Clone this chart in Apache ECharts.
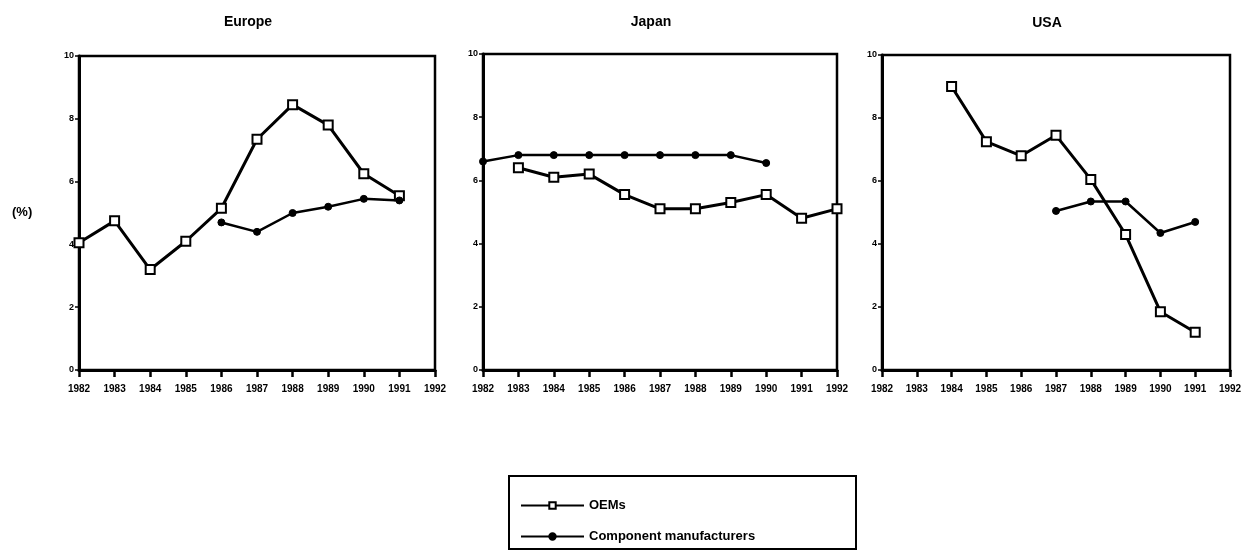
<!DOCTYPE html>
<html><head><meta charset="utf-8">
<script src="https://cdn.jsdelivr.net/npm/echarts@6/dist/echarts.min.js"></script>
<style>html,body{margin:0;padding:0;background:#fff}#c{width:1250px;height:559px}</style>
</head><body><div id="c"></div>
<script>
const years = [1982,1983,1984,1985,1986,1987,1988,1989,1990,1991,1992];
const yTicks = [0,2,4,6,8,10];
const regions = ['Europe','Japan','USA'];
const europeOEM = [4.05,4.75,3.2,4.1,5.15,7.35,8.45,7.8,6.25,5.55,null];
const europeComp = [null,null,null,null,4.7,4.4,5.0,5.2,5.45,5.4,null];
const japanOEM = [null,6.4,6.1,6.2,5.55,5.1,5.1,5.3,5.55,4.8,5.1];
const japanComp = [6.6,6.8,6.8,6.8,6.8,6.8,6.8,6.8,6.55,null,null];
const usaOEM = [null,null,9.0,7.25,6.8,7.45,6.05,4.3,1.85,1.2,null];
const usaComp = [null,null,null,null,null,5.05,5.35,5.35,4.35,4.7,null];
const seriesNames = ['OEMs','Component manufacturers'];

const oemData = [europeOEM, japanOEM, usaOEM];
const compData = [europeComp, japanComp, usaComp];

const FONT = 'Liberation Sans';
const grids = [
  {left:79, width:356, top:56, height:314},
  {left:483, width:354, top:54, height:316},
  {left:882, width:348, top:55, height:315}
];
const pairs = arr => years.map((y,i)=>arr[i]==null?null:[y,arr[i]]).filter(p=>p);

const chart = echarts.init(document.getElementById('c'), null, {renderer:'canvas'});
const option = {
  animation:false,
  backgroundColor:'#fff',
  title: regions.map((r,i)=>({
    text:r, left: grids[i].left + grids[i].width/2 - 14, top: i===2?11:10, textAlign:'center',
    textStyle:{fontFamily:FONT, fontSize:14, fontWeight:'bold', color:'#000'}
  })).concat([{text:'(%)', left:7, top:201, textStyle:{fontFamily:FONT,fontSize:13,fontWeight:'bold',color:'#000'}}]),
  graphic:[{type:'rect', left:508, top:475, shape:{width:347, height:73},
    style:{fill:'#fff', stroke:'#000', lineWidth:2}, z:-1}],
  grid: grids.map(g=>Object.assign({show:true, borderColor:'#000', borderWidth:2.5, backgroundColor:'transparent'}, g)),
  xAxis: grids.map((g,i)=>({
    type:'value', gridIndex:i, min:1982, max:1992, interval:1,
    axisLine:{onZero:false, lineStyle:{color:'#000', width:3}},
    axisTick:{show:true, length:7, lineStyle:{color:'#000', width:2.5}},
    axisLabel:{color:'#000', fontFamily:FONT, fontSize:10, fontWeight:'bold', margin:14, formatter:v=>String(v)},
    splitLine:{show:false}
  })),
  yAxis: grids.map((g,i)=>({
    type:'value', gridIndex:i, min:yTicks[0], max:yTicks[yTicks.length-1], interval:2,
    axisLine:{onZero:false, lineStyle:{color:'#000', width:3}},
    axisTick:{show:true, length:4, lineStyle:{color:'#000', width:1.5}},
    axisLabel:{color:'#000', fontFamily:FONT, fontSize:9, fontWeight:'bold', margin:5},
    splitLine:{show:false}
  })),
  legend:{
    data:seriesNames, orient:'vertical', left:520, top:499,
    padding:0, itemGap:18, itemWidth:63, itemHeight:8,
    textStyle:{fontFamily:FONT, fontSize:13, fontWeight:'bold', color:'#000'},
    selectedMode:false
  },
  series: []
};
for (let i=0;i<3;i++){
  option.series.push({
    name:seriesNames[0], type:'line', xAxisIndex:i, yAxisIndex:i, data:pairs(oemData[i]),
    symbol:'rect', symbolSize:9, showAllSymbol:true,
    lineStyle:{color:'#000', width:3},
    itemStyle:{color:'#fff', borderColor:'#000', borderWidth:2}
  });
  option.series.push({
    name:seriesNames[1], type:'line', xAxisIndex:i, yAxisIndex:i, data:pairs(compData[i]),
    symbol:'circle', symbolSize:7, showAllSymbol:true,
    lineStyle:{color:'#000', width:2.5},
    itemStyle:{color:'#000', borderColor:'#000', borderWidth:1}
  });
}
chart.setOption(option);
</script></body></html>
